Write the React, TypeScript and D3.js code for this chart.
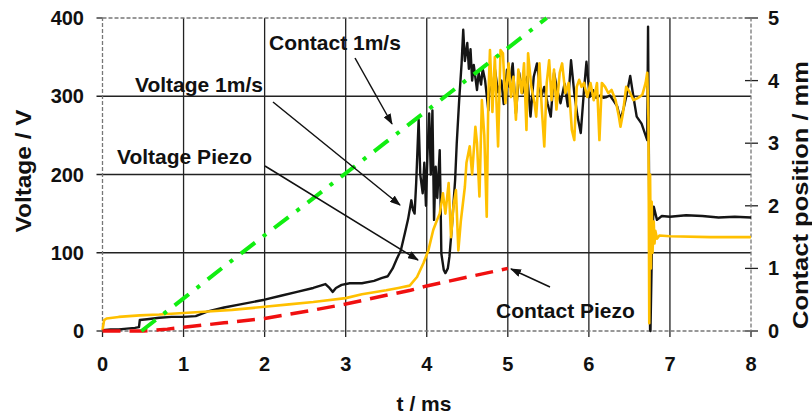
import React from "react";
import * as d3 from "d3";

// t in ms, voltage in V
const voltage1ms: [number, number][] = [
  [0, 1], [0.1, 2], [0.2, 2], [0.3, 3], [0.4, 4], [0.45, 5], [0.46, 14], [0.55, 15], [0.7, 17],
  [0.85, 18], [1.0, 18], [1.15, 19], [1.3, 25], [1.5, 30], [1.7, 34], [1.9, 38], [2.0, 40],
  [2.2, 45], [2.4, 50], [2.6, 55], [2.75, 60], [2.8, 55], [2.84, 50], [2.88, 55], [2.95, 59],
  [3.05, 61], [3.2, 61], [3.35, 64], [3.45, 68], [3.52, 70], [3.58, 80], [3.63, 92], [3.68, 103],
  [3.73, 125], [3.77, 143], [3.81, 167], [3.83, 155], [3.85, 150], [3.87, 190], [3.9, 270],
  [3.92, 200], [3.95, 176], [3.97, 215], [3.99, 160], [4.01, 230], [4.03, 278], [4.05, 200],
  [4.07, 282], [4.09, 142], [4.11, 210], [4.13, 170], [4.16, 231], [4.17, 170], [4.18, 99],
  [4.21, 78], [4.23, 74], [4.26, 80], [4.28, 95], [4.31, 133], [4.35, 193], [4.37, 240],
  [4.4, 295], [4.43, 342], [4.45, 385], [4.47, 345], [4.5, 368], [4.52, 335], [4.54, 360],
  [4.56, 320], [4.58, 340], [4.62, 308], [4.64, 330], [4.67, 315], [4.69, 335], [4.72, 320],
  [4.76, 282], [4.78, 330], [4.81, 300], [4.84, 335], [4.88, 305], [4.92, 320], [4.95, 290],
  [4.99, 334], [5.02, 312], [5.06, 342], [5.1, 278], [5.14, 330], [5.18, 304], [5.24, 325],
  [5.28, 274], [5.32, 325], [5.36, 342], [5.41, 299], [5.45, 312], [5.49, 291], [5.53, 274],
  [5.57, 330], [5.61, 308], [5.65, 291], [5.7, 316], [5.74, 287], [5.78, 346], [5.82, 304],
  [5.86, 274], [5.9, 253], [5.94, 308], [5.97, 344], [6.01, 299], [6.05, 308], [6.09, 298],
  [6.14, 301], [6.18, 298], [6.22, 299], [6.26, 301], [6.3, 295], [6.35, 287], [6.39, 270],
  [6.43, 285], [6.47, 304], [6.51, 326], [6.55, 299], [6.59, 274], [6.65, 265], [6.69, 253],
  [6.72, 244], [6.73, 389], [6.74, 227], [6.755, 2], [6.76, 0], [6.78, 120], [6.8, 159],
  [6.84, 142], [6.9, 147], [7.0, 146], [7.2, 148], [7.4, 147], [7.6, 145], [7.8, 146], [8.0, 145],
];

const voltagePiezo: [number, number][] = [
  [0, 1], [0.02, 14], [0.05, 16], [0.2, 18], [0.46, 20], [0.7, 21], [1.0, 23], [1.3, 25],
  [1.6, 27], [2.0, 31], [2.3, 34], [2.6, 37], [3.0, 42], [3.2, 47], [3.5, 52], [3.65, 55],
  [3.79, 58], [3.88, 69], [3.96, 87], [4.02, 103], [4.08, 129], [4.12, 140], [4.16, 150],
  [4.2, 176], [4.23, 150], [4.27, 189], [4.3, 120], [4.33, 160], [4.36, 180], [4.39, 103],
  [4.42, 140], [4.47, 184], [4.49, 215], [4.53, 236], [4.56, 200], [4.6, 261], [4.62, 240],
  [4.65, 172], [4.68, 295], [4.71, 250], [4.74, 146], [4.76, 300], [4.78, 359], [4.81, 280],
  [4.84, 350], [4.88, 236], [4.91, 359], [4.94, 355], [4.97, 291], [5.01, 342], [5.04, 299],
  [5.07, 325], [5.1, 270], [5.13, 334], [5.17, 304], [5.2, 342], [5.23, 257], [5.25, 355],
  [5.29, 312], [5.33, 291], [5.35, 274], [5.39, 342], [5.42, 283], [5.45, 236], [5.48, 317],
  [5.51, 346], [5.54, 295], [5.57, 334], [5.6, 283], [5.64, 330], [5.67, 342], [5.71, 304],
  [5.75, 317], [5.79, 257], [5.82, 244], [5.85, 312], [5.88, 321], [5.91, 312], [5.94, 317],
  [5.98, 299], [6.02, 317], [6.06, 295], [6.1, 317], [6.13, 244], [6.16, 317], [6.2, 312],
  [6.24, 304], [6.28, 308], [6.33, 295], [6.37, 274], [6.39, 261], [6.42, 278], [6.46, 312],
  [6.5, 306], [6.55, 295], [6.61, 298], [6.66, 302], [6.7, 317], [6.72, 330], [6.735, 270],
  [6.745, 10], [6.755, 200], [6.765, 80], [6.775, 165], [6.785, 100], [6.8, 140], [6.81, 112],
  [6.82, 128], [6.84, 118], [6.87, 122], [7.0, 121], [7.5, 120], [8.0, 120],
];

// contact position in mm
const contact1ms: [number, number][] = [
  [0.48, 0], [1.0, 0.52], [1.5, 1.03], [2.0, 1.53], [2.5, 2.02], [3.0, 2.52],
  [3.5, 3.02], [4.0, 3.52], [4.5, 4.02], [5.0, 4.52], [5.48, 5.0],
];

const contactPiezo: [number, number][] = [
  [0, 0], [0.5, 0], [0.8, 0.03], [1.0, 0.06], [1.5, 0.13], [2.0, 0.2], [2.5, 0.31],
  [3.0, 0.43], [3.5, 0.57], [3.8, 0.65], [4.0, 0.72], [4.5, 0.86], [5.0, 1.0],
];

const xTicks = [0, 1, 2, 3, 4, 5, 6, 7, 8];
const vTicks = [0, 100, 200, 300, 400];
const mmTicks = [0, 1, 2, 3, 4, 5];

const FONT = "'Liberation Sans', Arial, sans-serif";

export default function App() {
  const x = d3.scaleLinear().domain([0, 8]).range([102.5, 751]);
  const yV = d3.scaleLinear().domain([0, 400]).range([331, 18]);
  const yMm = d3.scaleLinear().domain([0, 5]).range([331, 18]);

  const lineV = d3.line<[number, number]>().x(d => x(d[0])).y(d => yV(d[1]));
  const lineMm = d3.line<[number, number]>().x(d => x(d[0])).y(d => yMm(d[1]));

  const [x0, x1] = x.range();
  const [yb, yt] = yV.range();

  const notes = [
    { text: "Contact 1m/s", tx: 269, ty: 50, a: [355, 58, 392, 124] },
    { text: "Voltage 1m/s", tx: 135, ty: 92, a: [273, 102, 400, 205] },
    { text: "Voltage Piezo", tx: 117, ty: 164, a: [265, 166, 418, 260] },
    { text: "Contact Piezo", tx: 496, ty: 318, a: [550, 287, 511, 269] },
  ];

  return (
    <svg width={812} height={416} style={{ position: "absolute", left: 0, top: 0, background: "#fff" }}
      fontFamily={FONT} fontWeight="bold">
      <defs>
        <marker id="arr" markerUnits="userSpaceOnUse" markerWidth={11} markerHeight={8}
          refX={10} refY={4} orient="auto">
          <path d="M0,0 L11,4 L0,8 z" fill="#111" />
        </marker>
      </defs>

      {/* grid */}
      {xTicks.map(t => (
        <line key={"gx" + t} x1={x(t)} x2={x(t)} y1={t === 0 || t === 8 ? yb : yt} y2={yb + 6}
          stroke="#222" strokeWidth={1.3} />
      ))}
      {vTicks.map(v => (
        <line key={"gy" + v} x1={x0 - 6} x2={v === 0 || v === 400 ? x0 : x1} y1={yV(v)} y2={yV(v)}
          stroke="#222" strokeWidth={1.3} />
      ))}
      {mmTicks.map(m => (
        <line key={"gm" + m} x1={x1 - 6} x2={x1 + 7} y1={yMm(m)} y2={yMm(m)} stroke="#222" strokeWidth={1.3} />
      ))}
      <rect x={x0} y={yt} width={x1 - x0} height={yb - yt} fill="none" stroke="#777"
        strokeWidth={1.3} strokeDasharray="4,2" />

      {/* tick labels */}
      {xTicks.map(t => (
        <text key={"lx" + t} x={x(t)} y={371} textAnchor="middle" fontSize={20} fill="#111">{t}</text>
      ))}
      {vTicks.map(v => (
        <text key={"lv" + v} x={84} y={yV(v) + 7} textAnchor="end" fontSize={20} fill="#111">{v}</text>
      ))}
      {mmTicks.map(m => (
        <text key={"lm" + m} x={768} y={yMm(m) + 7} textAnchor="start" fontSize={20} fill="#111">{m}</text>
      ))}

      {/* axis titles */}
      <text x={424} y={411} textAnchor="middle" fontSize={21} fill="#111">t / ms</text>
      <text transform="translate(31,171) rotate(-90)" textAnchor="middle" fontSize={22} fill="#111"
        textLength={123} lengthAdjust="spacingAndGlyphs">Voltage / V</text>
      <text transform="translate(808,195) rotate(-90)" textAnchor="middle" fontSize={22} fill="#111"
        textLength={268} lengthAdjust="spacingAndGlyphs">Contact position / mm</text>

      {/* series */}
      <path d={lineV(voltage1ms) ?? ""} fill="none" stroke="#151515" strokeWidth={2.4} strokeLinejoin="round" />
      <path d={lineV(voltagePiezo) ?? ""} fill="none" stroke="#ffc000" strokeWidth={2.6} strokeLinejoin="round" />
      <path d={lineMm(contactPiezo) ?? ""} fill="none" stroke="#f01010" strokeWidth={3.5} strokeDasharray="18,9" />
      <path d={lineMm(contact1ms) ?? ""} fill="none" stroke="#11ee11" strokeWidth={4} strokeDasharray="18,10,4,10" />

      {/* annotations */}
      {notes.map(n => (
        <g key={n.text}>
          <text x={n.tx} y={n.ty} fontSize={21} fill="#111">{n.text}</text>
          <line x1={n.a[0]} y1={n.a[1]} x2={n.a[2]} y2={n.a[3]} stroke="#111" strokeWidth={1.5}
            markerEnd="url(#arr)" />
        </g>
      ))}
    </svg>
  );
}
